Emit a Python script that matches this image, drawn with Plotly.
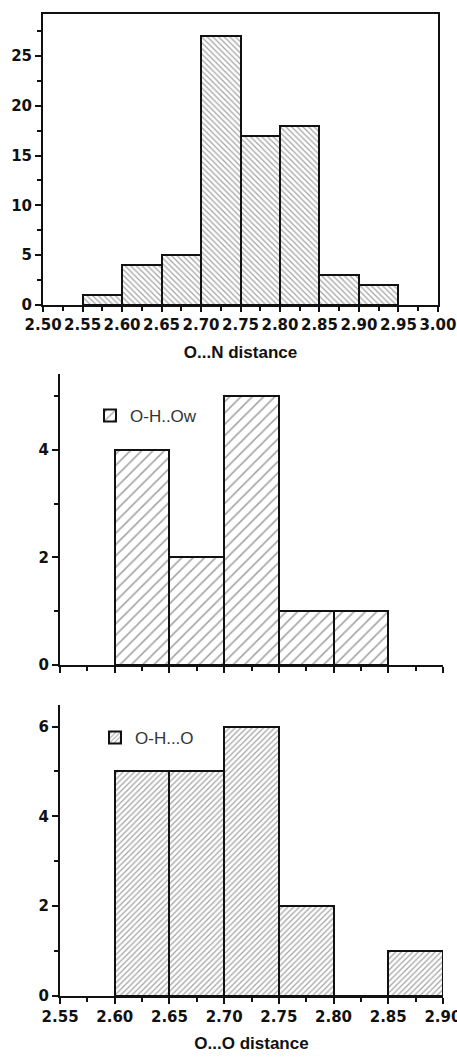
import plotly.graph_objects as go

W, H = 457, 1061
BIN_WIDTH = 0.05

# Top panel: O...N distance
on_bin_starts = [2.55, 2.60, 2.65, 2.70, 2.75, 2.80, 2.85, 2.90]
on_counts = [1, 4, 5, 27, 17, 18, 3, 2]

# Middle panel: O-H..Ow
ohow_bin_starts = [2.60, 2.65, 2.70, 2.75, 2.80]
ohow_counts = [4, 2, 5, 1, 1]

# Bottom panel: O-H...O
oho_bin_starts = [2.60, 2.65, 2.70, 2.75, 2.80, 2.85]
oho_counts = [5, 5, 6, 2, 0, 1]

top_xticks = [2.50, 2.55, 2.60, 2.65, 2.70, 2.75, 2.80, 2.85, 2.90, 2.95, 3.00]
bot_xticks = [2.55, 2.60, 2.65, 2.70, 2.75, 2.80, 2.85, 2.90]

def px_x(p):
    return p / W

def px_y(p):
    return (H - p) / H

tick_font = dict(family="DejaVu Sans", size=15, color="#111", weight="bold")
title_font = dict(family="Liberation Sans", size=17, color="#111", weight="bold")
legend_font = dict(family="Liberation Sans", size=17, color="#333")

def bar(x, y, shape, size, solidity, xa, ya, name, legend=None, show=False):
    return go.Bar(
        x=x, y=y, width=BIN_WIDTH, offset=0,
        xaxis=xa, yaxis=ya, name=name,
        showlegend=show, legend=legend,
        marker=dict(
            color="white",
            line=dict(color="#111", width=2),
            pattern=dict(shape=shape, size=size, solidity=solidity,
                         fgcolor="#4a4a4a", bgcolor="white", fillmode="overlay"),
        ),
        hoverinfo="x+y",
    )

fig = go.Figure()
fig.add_trace(bar(on_bin_starts, on_counts, "\\", 4, 0.32, "x", "y", "O...N"))
fig.add_trace(bar(ohow_bin_starts, ohow_counts, "/", 8, 0.2, "x2", "y2",
                  "O-H..Ow", legend="legend", show=True))
fig.add_trace(bar(oho_bin_starts, oho_counts, "/", 4, 0.32, "x3", "y3",
                  "O-H...O", legend="legend2", show=True))

common_axis = dict(showline=True, linecolor="#111", linewidth=2, ticks="outside",
                   tickcolor="#111", tickwidth=2, ticklen=6, showgrid=False,
                   zeroline=False, tickfont=tick_font, automargin=False,
                   ticklabeloverflow="allow")

EPS = 1e-4
fig.update_layout(
    width=W, height=H,
    margin=dict(l=0, r=0, t=0, b=0),
    paper_bgcolor="white", plot_bgcolor="white",
    bargap=0,
    xaxis=dict(common_axis, domain=[px_x(43), px_x(438)], anchor="y",
               range=[2.50 - EPS, 3.00 + EPS], tickvals=top_xticks, tickformat=".2f",
               tickangle=0, mirror=True, ticklen=5,
               minor=dict(dtick=0.025, tick0=2.5, ticks="outside", ticklen=4,
                          tickcolor="#111", tickwidth=1.5),
               title=dict(text="O...N distance", font=title_font, standoff=13)),
    yaxis=dict(common_axis, domain=[px_y(305), px_y(14)], anchor="x",
               range=[0, 29.2], dtick=5, mirror=True,
               minor=dict(dtick=2.5, ticks="outside", ticklen=4,
                          tickcolor="#111", tickwidth=1.5)),
    xaxis2=dict(common_axis, domain=[px_x(60), px_x(443)], anchor="y2",
                range=[2.55 - EPS, 2.90 + EPS], dtick=0.05, tick0=2.55,
                showticklabels=False,
                minor=dict(dtick=0.025, tick0=2.55, ticks="outside", ticklen=4,
                           tickcolor="#111", tickwidth=1.5)),
    yaxis2=dict(common_axis, domain=[px_y(665), px_y(374)], anchor="x2",
                range=[0, 5.41], dtick=2,
                minor=dict(dtick=1, ticks="outside", ticklen=4,
                           tickcolor="#111", tickwidth=1.5)),
    xaxis3=dict(common_axis, domain=[px_x(60), px_x(443)], anchor="y3",
                range=[2.55 - EPS, 2.90 + EPS], tickvals=bot_xticks, tickformat=".2f",
                tickangle=0,
                minor=dict(dtick=0.025, tick0=2.55, ticks="outside", ticklen=4,
                           tickcolor="#111", tickwidth=1.5),
                title=dict(text="O...O distance", font=title_font, standoff=12)),
    yaxis3=dict(common_axis, domain=[px_y(996), px_y(705)], anchor="x3",
                range=[0, 6.48], dtick=2,
                minor=dict(dtick=1, ticks="outside", ticklen=4,
                           tickcolor="#111", tickwidth=1.5)),
    legend=dict(x=px_x(90), y=px_y(416), xanchor="left", yanchor="middle",
                font=legend_font, bgcolor="rgba(0,0,0,0)"),
    legend2=dict(x=px_x(95), y=px_y(738), xanchor="left", yanchor="middle",
                 font=legend_font, bgcolor="rgba(0,0,0,0)"),
)

fig.write_html("out.html", config={"displayModeBar": False},
               post_script="document.body.style.margin='0';document.body.style.overflow='hidden';")
